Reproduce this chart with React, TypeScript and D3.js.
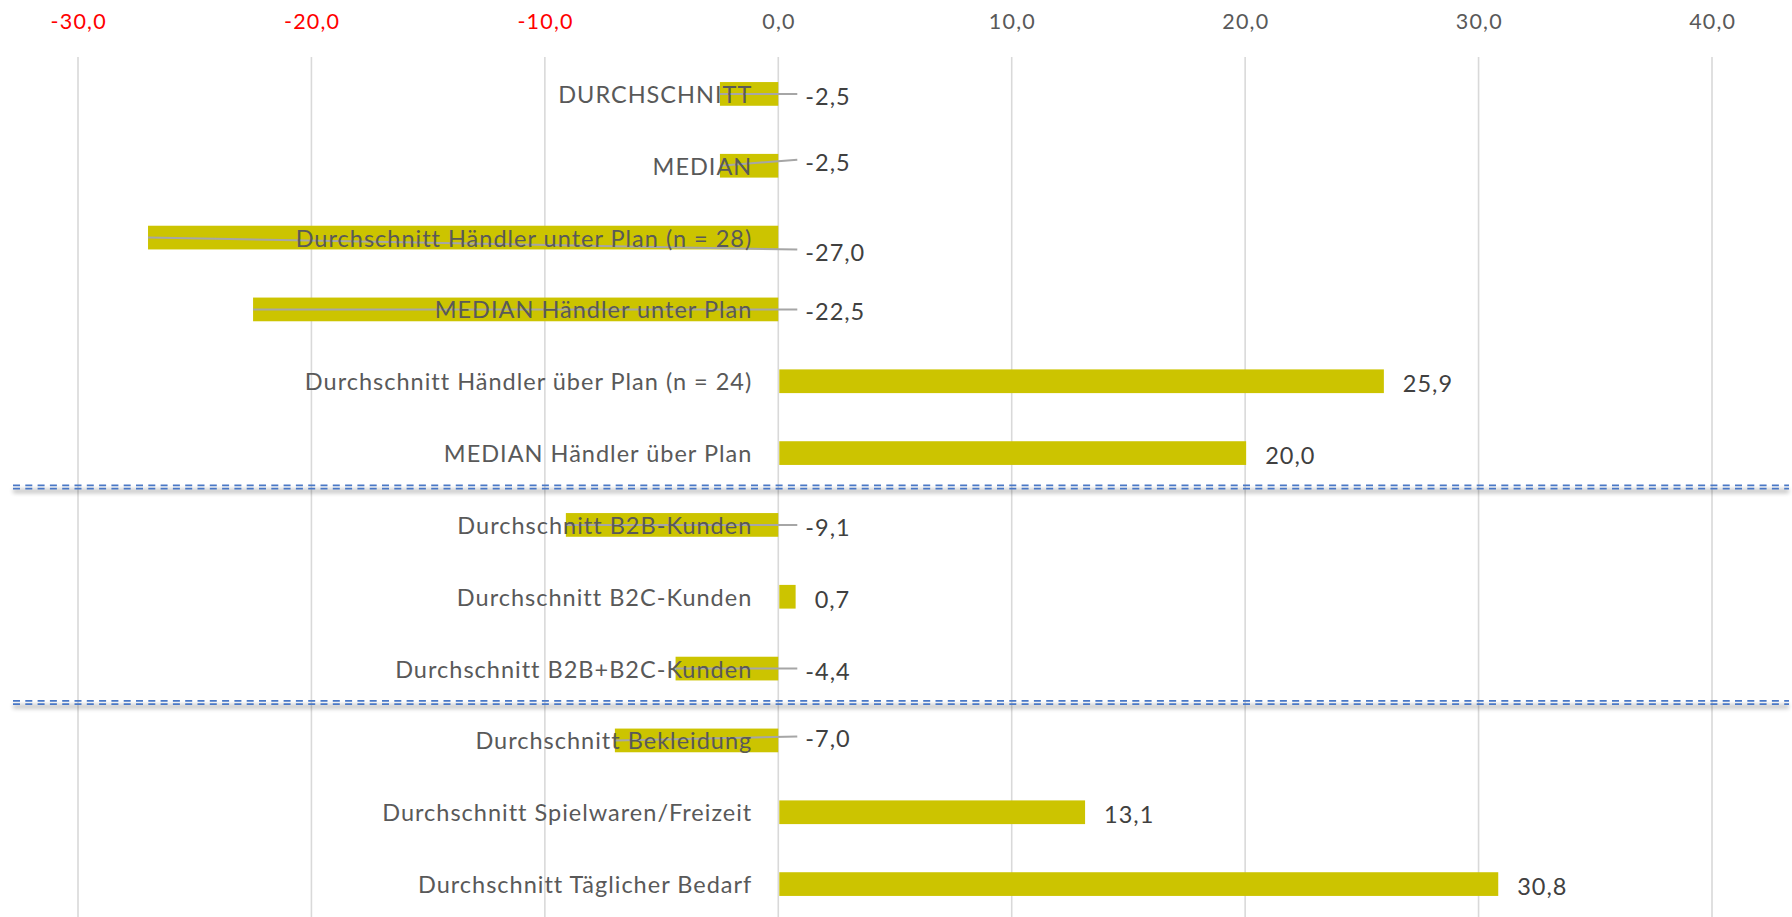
import React, { useEffect, useRef } from 'react';
import * as d3 from 'd3';

const categories = [
  'DURCHSCHNITT',
  'MEDIAN',
  'Durchschnitt Händler unter Plan (n = 28)',
  'MEDIAN Händler unter Plan',
  'Durchschnitt Händler über Plan (n = 24)',
  'MEDIAN Händler über Plan',
  'Durchschnitt B2B-Kunden',
  'Durchschnitt B2C-Kunden',
  'Durchschnitt B2B+B2C-Kunden',
  'Durchschnitt Bekleidung',
  'Durchschnitt Spielwaren/Freizeit',
  'Durchschnitt Täglicher Bedarf',
];
const values = [-2.5, -2.5, -27.0, -22.5, 25.9, 20.0, -9.1, 0.7, -4.4, -7.0, 13.1, 30.8];
const tickValues = [-30, -20, -10, 0, 10, 20, 30, 40];
// separators sit after these groups (index of the last row in a group)
const groupEnds = [5, 8];

// manual label moves, like in the original sheet
const labelNudge: Record<number, number> = { 1: -6, 2: 12, 9: -4 };

const W = 1792;
const H = 917;

const App = () => {
  const ref = useRef<SVGSVGElement>(null);

  useEffect(() => {
    const svg = d3.select(ref.current);
    svg.selectAll('*').remove();

    const font = 'Lato, "Open Sans", sans-serif';
    const locale = d3.formatLocale({ decimal: ',', thousands: '.', grouping: [3], currency: ['', '€'], minus: '-' });
    const fmt = locale.format('.1f');

    const x = d3.scaleLinear().domain([-30, 40]).range([78, 1712]);
    const y = d3.scaleBand<number>()
      .domain(d3.range(categories.length))
      .range([58, 920])
      .paddingInner(0.67)
      .paddingOuter(0.335);
    const bh = y.bandwidth();
    const cy = (i: number) => (y(i) as number) + bh / 2;

    const defs = svg.append('defs');
    defs.append('filter').attr('id', 'blur')
      .attr('x', '-5%').attr('y', '-200%').attr('width', '110%').attr('height', '500%')
      .append('feGaussianBlur').attr('stdDeviation', 2.2);

    // gridlines
    svg.append('g').selectAll('line').data(tickValues).enter().append('line')
      .attr('x1', d => x(d)).attr('x2', d => x(d))
      .attr('y1', 57).attr('y2', H)
      .attr('stroke', '#d9d9d9').attr('stroke-width', 1.6);

    // tick labels
    svg.append('g').selectAll('text').data(tickValues).enter().append('text')
      .attr('x', d => x(d) + 0.7).attr('y', 21)
      .attr('text-anchor', 'middle').attr('dominant-baseline', 'central')
      .attr('font-family', font).attr('font-size', 21.5).attr('letter-spacing', 1.2)
      .attr('fill', d => (d < 0 ? '#ff0000' : '#595959'))
      .text(d => fmt(d));

    // bars
    svg.append('g').selectAll('rect').data(values).enter().append('rect')
      .attr('x', d => Math.min(x(0), x(d)) + (d > 0 ? 1 : 0))
      .attr('y', (_, i) => y(i) as number)
      .attr('width', d => Math.abs(x(d) - x(0)))
      .attr('height', bh)
      .attr('fill', '#ccc400');

    const labelY = (i: number) => cy(i) + 2 + (labelNudge[i] ?? 0);

    // leader lines for negative values
    svg.append('g').selectAll('line')
      .data(values.map((v, i) => ({ v, i })).filter(d => d.v < 0))
      .enter().append('line')
      .attr('x1', d => x(d.v)).attr('y1', d => cy(d.i))
      .attr('x2', x(0) + 19).attr('y2', d => labelY(d.i) - 2)
      .attr('stroke', '#a6a6a6').attr('stroke-width', 2);

    // category labels
    svg.append('g').selectAll('text').data(categories).enter().append('text')
      .attr('x', x(0) - 26).attr('y', (_, i) => cy(i))
      .attr('text-anchor', 'end').attr('dominant-baseline', 'central')
      .attr('font-family', font).attr('font-size', 23.5).attr('letter-spacing', 1.0)
      .attr('fill', '#595959')
      .text(d => d);

    // value labels
    svg.append('g').selectAll('text').data(values).enter().append('text')
      .attr('x', d => (d < 0 ? x(0) + 27 : x(d) + 20))
      .attr('y', (_, i) => labelY(i))
      .attr('dominant-baseline', 'central')
      .attr('font-family', font).attr('font-size', 23.5).attr('letter-spacing', 1.0)
      .attr('fill', '#404040')
      .text(d => fmt(d));

    // double dashed separators
    const sep = svg.append('g');
    groupEnds.forEach(g => {
      const sy = (y(g) as number) + bh + (y.step() - bh) / 2 - 2;
      sep.append('rect')
        .attr('x', 13).attr('y', sy + 2).attr('width', 1776).attr('height', 4)
        .attr('fill', '#000').attr('opacity', 0.25).attr('filter', 'url(#blur)');
      [-1.7, 1.7].forEach(off => {
        sep.append('line')
          .attr('x1', 13).attr('x2', 1789)
          .attr('y1', sy + off).attr('y2', sy + off)
          .attr('stroke', '#4a78c6').attr('stroke-width', 1.8)
          .attr('stroke-dasharray', '7 5.3');
      });
    });
  }, []);

  return (
    <svg ref={ref} width={W} height={H}
      style={{ position: 'absolute', left: 0, top: 0, background: '#fff' }} />
  );
};

export default App;
